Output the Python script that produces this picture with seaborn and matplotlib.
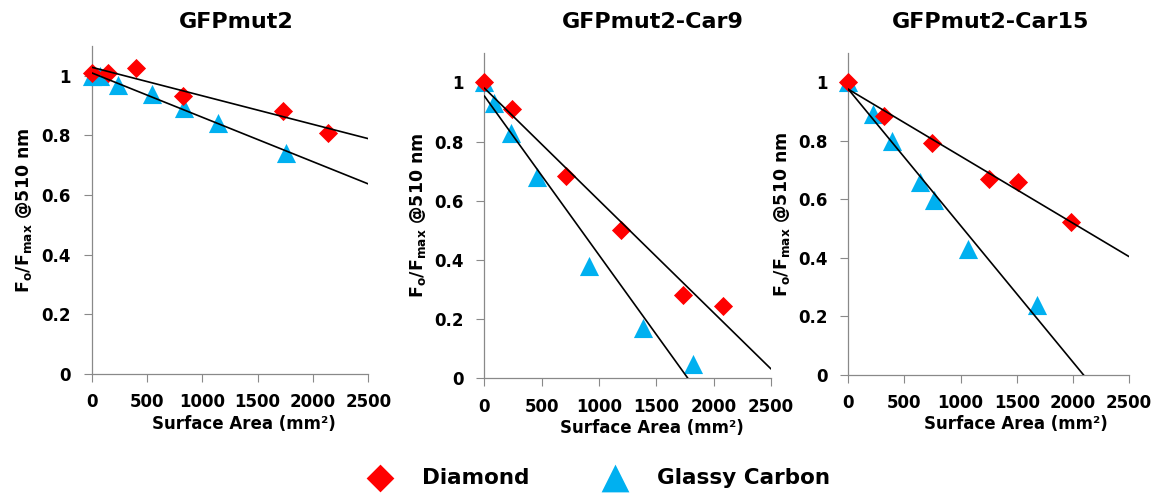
import numpy as np
import pandas as pd
import matplotlib
matplotlib.use("Agg")
import matplotlib.pyplot as plt
import seaborn as sns

# ---------------- data ----------------
panels = ["GFPmut2", "GFPmut2-Car9", "GFPmut2-Car15"]
materials = ["Diamond", "Glassy Carbon"]

gfp_diamond_x = [0, 150, 401, 828, 1732, 2133]
gfp_diamond_y = [1.01, 1.01, 1.026, 0.933, 0.883, 0.808]
gfp_glassy_x = [0, 75, 240, 548, 837, 1145, 1756]
gfp_glassy_y = [1.00, 1.00, 0.97, 0.94, 0.891, 0.843, 0.74]

car9_diamond_x = [0, 238, 709, 1195, 1735, 2084]
car9_diamond_y = [1.00, 0.91, 0.682, 0.502, 0.282, 0.245]
car9_glassy_x = [0, 87, 233, 462, 916, 1387, 1823]
car9_glassy_y = [1.00, 0.93, 0.83, 0.68, 0.38, 0.17, 0.05]

car15_diamond_x = [0, 321, 748, 1256, 1508, 1983]
car15_diamond_y = [1.00, 0.883, 0.792, 0.668, 0.657, 0.523]
car15_glassy_x = [0, 217, 392, 638, 763, 1069, 1678]
car15_glassy_y = [1.00, 0.89, 0.80, 0.657, 0.597, 0.43, 0.24]

x_ticks = [0, 500, 1000, 1500, 2000, 2500]
y_ticks = [0, 0.2, 0.4, 0.6, 0.8, 1.0]
y_tick_labels = ["0", "0.2", "0.4", "0.6", "0.8", "1"]

series = {
    ("GFPmut2", "Diamond"): (gfp_diamond_x, gfp_diamond_y),
    ("GFPmut2", "Glassy Carbon"): (gfp_glassy_x, gfp_glassy_y),
    ("GFPmut2-Car9", "Diamond"): (car9_diamond_x, car9_diamond_y),
    ("GFPmut2-Car9", "Glassy Carbon"): (car9_glassy_x, car9_glassy_y),
    ("GFPmut2-Car15", "Diamond"): (car15_diamond_x, car15_diamond_y),
    ("GFPmut2-Car15", "Glassy Carbon"): (car15_glassy_x, car15_glassy_y),
}
rows = []
for (p, m), (xs, ys) in series.items():
    for xv, yv in zip(xs, ys):
        rows.append({"panel": p, "material": m, "area": xv, "ratio": yv})
df = pd.DataFrame(rows)

# ---------------- style ----------------
sns.set_theme(style="ticks")
plt.rcParams["font.family"] = ["DejaVu Sans"]
plt.rcParams["font.weight"] = "bold"
plt.rcParams["mathtext.fontset"] = "dejavusans"
plt.rcParams["text.color"] = "black"
plt.rcParams["axes.labelcolor"] = "black"
plt.rcParams["xtick.color"] = "black"
plt.rcParams["ytick.color"] = "black"

colors = {"Diamond": "#FF0000", "Glassy Carbon": "#00B0F0"}
markers = {"Diamond": "D", "Glassy Carbon": "^"}
sizes = {"Diamond": 95, "Glassy Carbon": 190}
spine_col = "#898989"

fig = plt.figure(figsize=(11.62, 4.98), dpi=100)
W, H = 1162, 498
# axes boxes in pixels: left, right(x=2500), top(y=1.1), bottom(y=0)
boxes = [(91.7, 368.3, 46, 374), (484.3, 771, 52.7, 378.3), (848.3, 1129, 52.7, 375)]
title_x = [0.524, 0.588, 0.508]
title_pad = [13, 17.5, 18]
xlabel_x = [0.551, 0.584, 0.597]
ylabel_x = [-0.21, -0.196, -0.202]

axes = []
for i, p in enumerate(panels):
    l, r, t, b = boxes[i]
    ax = fig.add_axes([l / W, (H - b) / H, (r - l) / W, (b - t) / H])
    axes.append(ax)
    ax.set_xlim(0, 2500)
    ax.set_ylim(0, 1.1)
    sub = df[df.panel == p]
    # triangles first, diamonds on top
    for m in ["Glassy Carbon", "Diamond"]:
        d = sub[sub.material == m]
        sns.scatterplot(data=d, x="area", y="ratio", marker=markers[m],
                        color=colors[m], s=sizes[m], linewidth=0, ax=ax,
                        label=m, clip_on=False, zorder=3)
    for m in ["Glassy Carbon", "Diamond"]:
        d = sub[sub.material == m]
        sns.regplot(data=d, x="area", y="ratio", scatter=False, ci=None,
                    truncate=False, ax=ax,
                    line_kws={"color": "black", "lw": 1.2, "zorder": 4})
    ax.set_xlim(0, 2500)
    ax.set_ylim(0, 1.1)
    ax.set_xticks(x_ticks)
    ax.set_yticks(y_ticks)
    ax.set_yticklabels(y_tick_labels)
    ax.tick_params(axis="both", labelsize=12, labelcolor="black", width=0.8,
                   length=6, direction="out", color=spine_col)
    ax.tick_params(axis="x", pad=8)
    ax.tick_params(axis="y", pad=9)
    for lab in ax.get_xticklabels() + ax.get_yticklabels():
        lab.set_fontweight("bold")
    for s in ["top", "right"]:
        ax.spines[s].set_visible(False)
    for s in ["left", "bottom"]:
        ax.spines[s].set_color(spine_col)
        ax.spines[s].set_linewidth(0.9)
    ax.set_title(p, fontsize=16, fontweight="bold", x=title_x[i],
                 pad=title_pad[i], color="black")
    ax.set_xlabel("Surface Area (mm²)", fontsize=12, fontweight="bold")
    ax.xaxis.set_label_coords(xlabel_x[i], -0.125)
    ax.set_ylabel(r"F$_\mathbf{o}$/F$_\mathbf{max}$ @510 nm", fontsize=12.5,
                  fontweight="bold")
    ax.yaxis.set_label_coords(ylabel_x[i], 0.5)
    handles, labels = ax.get_legend_handles_labels()
    ax.get_legend().remove()

order = [labels.index("Diamond"), labels.index("Glassy Carbon")]
fig.legend([handles[k] for k in order], [labels[k] for k in order],
           loc="center", bbox_to_anchor=(594 / W, (H - 478) / H), ncol=2,
           frameon=False, prop={"size": 15.5, "weight": "bold"},
           markerscale=1.45, handletextpad=0.95, columnspacing=3.0)

fig.savefig("out.png", dpi=100)
